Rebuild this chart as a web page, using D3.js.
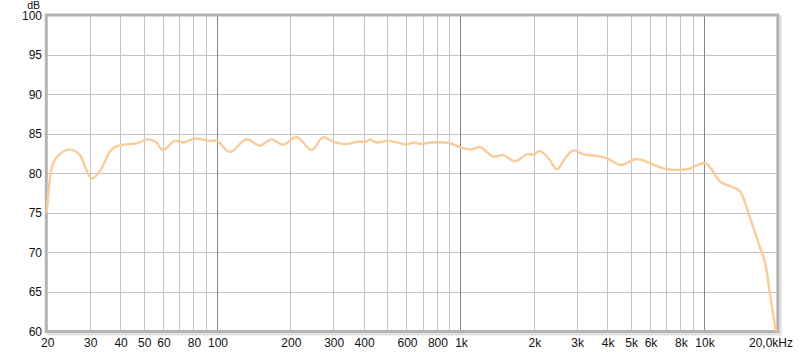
<!DOCTYPE html>
<html>
<head>
<meta charset="utf-8">
<script src="https://cdn.jsdelivr.net/npm/d3@7"></script>
<style>
  body { margin: 0; background: #fff; }
  svg text { font-family: "Liberation Sans", Arial, sans-serif; font-size: 12px; fill: #111; }
</style>
</head>
<body>
<svg id="chart" width="800" height="352"></svg>
<script>
// frequency response (Hz, dB)
const freqs = [20, 20.6, 21.25, 22.5, 24.9, 27.4, 28.7, 30.6, 33.1, 35.9, 37.5, 41, 47, 52, 56, 60, 67, 73, 81, 93, 100,
  113, 132, 150, 167, 187, 212, 245, 272, 300, 340, 375, 410, 422, 452, 498, 548, 603, 643, 685, 750, 848, 905,
  1000, 1098, 1205, 1363, 1499, 1676, 1868, 2000, 2118, 2300, 2492, 2690, 2910, 3200, 3627, 3990, 4580, 5270,
  6180, 7030, 8500, 10120, 11700, 13200, 14060, 15400, 16930, 17780, 18640, 19700];
const levels = [75, 79.3, 81.3, 82.4, 83, 82.3, 80.8, 79.35, 80.3, 82.5, 83.2, 83.6, 83.8, 84.3, 84.0, 82.95, 84.1, 83.9, 84.4, 84.1, 84.1,
  82.7, 84.3, 83.5, 84.3, 83.6, 84.6, 82.95, 84.55, 84.0, 83.67, 84.0, 84.0, 84.3, 83.9, 84.1, 83.9, 83.65, 83.9, 83.7, 83.9, 83.9, 83.8,
  83.3, 83.0, 83.3, 82.1, 82.3, 81.5, 82.4, 82.4, 82.8, 81.9, 80.5, 81.9, 82.9, 82.4, 82.2, 81.9, 81.05, 81.8,
  81.1, 80.5, 80.5, 81.25, 78.9, 78.2, 77.7, 74.5, 70.7, 68.8, 64.8, 60];

const gridFreqs = [30, 40, 50, 60, 70, 80, 90, 200, 300, 400, 500, 600, 700, 800, 900,
  2000, 3000, 4000, 5000, 6000, 7000, 8000, 9000];
const decadeFreqs = [100, 1000, 10000];
const xTickVals = [20, 30, 40, 50, 60, 80, 100, 200, 300, 400, 600, 800, 1000, 2000, 3000, 4000, 5000, 6000, 8000, 10000, 20000];
const xTickLabels = ["20", "30", "40", "50", "60", "80", "100", "200", "300", "400", "600", "800", "1k", "2k", "3k", "4k", "5k", "6k", "8k", "10k", "20,0kHz"];
const yTicks = [60, 65, 70, 75, 80, 85, 90, 95, 100];

const svg = d3.select("#chart")
const plot = {left: 46.8, right: 777.3, top: 15.5, bottom: 331}

const x = d3.scaleLog()
            .domain([20, 20000])
            .range([plot.left, plot.right])
const y = d3.scaleLinear()
            .domain([60, 100])
            .range([plot.bottom, plot.top])

// soft shadow of the frame
svg.append("rect")
   .attr("x", plot.left + 1.5)
   .attr("y", plot.top + 1.5)
   .attr("width", plot.right - plot.left + 1.5)
   .attr("height", plot.bottom - plot.top + 1.5)
   .attr("fill", "none")
   .attr("stroke", "#e2e2e2")
   .attr("stroke-width", 3)

svg.append("rect")
   .attr("x", plot.left)
   .attr("y", plot.top)
   .attr("width", plot.right - plot.left)
   .attr("height", plot.bottom - plot.top)
   .attr("fill", "#fff")

// horizontal grid
svg.selectAll(".hgrid")
   .data(yTicks.slice(1, -1))
   .join("line")
   .attr("x1", plot.left)
   .attr("x2", plot.right)
   .attr("y1", (d) => Math.round(y(d)) + 0.5)
   .attr("y2", (d) => Math.round(y(d)) + 0.5)
   .attr("stroke", "#c4c4c4")

// vertical grid
svg.selectAll(".vgrid")
   .data(gridFreqs)
   .join("line")
   .attr("x1", (d) => Math.round(x(d)) + 0.5)
   .attr("x2", (d) => Math.round(x(d)) + 0.5)
   .attr("y1", plot.top)
   .attr("y2", plot.bottom)
   .attr("stroke", "#c4c4c4")

svg.selectAll(".dgrid")
   .data(decadeFreqs)
   .join("line")
   .attr("x1", (d) => Math.round(x(d)) + 0.5)
   .attr("x2", (d) => Math.round(x(d)) + 0.5)
   .attr("y1", plot.top)
   .attr("y2", plot.bottom)
   .attr("stroke", "#858585")

// frame
svg.append("rect")
   .attr("x", plot.left - 0.5)
   .attr("y", plot.top - 0.5)
   .attr("width", plot.right - plot.left + 1)
   .attr("height", plot.bottom - plot.top + 1)
   .attr("fill", "none")
   .attr("stroke", "#b4b4b4")
   .attr("stroke-width", 3)

// response curve
const data = freqs.map((f, i) => ({f: f, v: levels[i]}))
const line = d3.line()
               .x((d) => x(d.f))
               .y((d) => y(d.v))
               .curve(d3.curveCatmullRom.alpha(0.5))

svg.append("path")
   .attr("d", line(data))
   .attr("fill", "none")
   .attr("stroke", "#f9cc99")
   .attr("stroke-width", 2.4)
   .attr("stroke-linejoin", "round")

// axis labels
svg.selectAll(".ylab")
   .data(yTicks)
   .join("text")
   .attr("x", 42)
   .attr("y", (d) => y(d) + 4.5)
   .attr("text-anchor", "end")
   .text((d) => d)

svg.append("text")
   .attr("x", 40)
   .attr("y", 9)
   .attr("text-anchor", "end")
   .style("font-size", "10.5px")
   .text("dB")

svg.selectAll(".xlab")
   .data(xTickVals)
   .join("text")
   .attr("x", (d, i) => i === xTickVals.length - 1 ? 771 : x(d) + 1)
   .attr("y", 347)
   .attr("text-anchor", "middle")
   .text((d, i) => xTickLabels[i])
</script>
</body>
</html>
